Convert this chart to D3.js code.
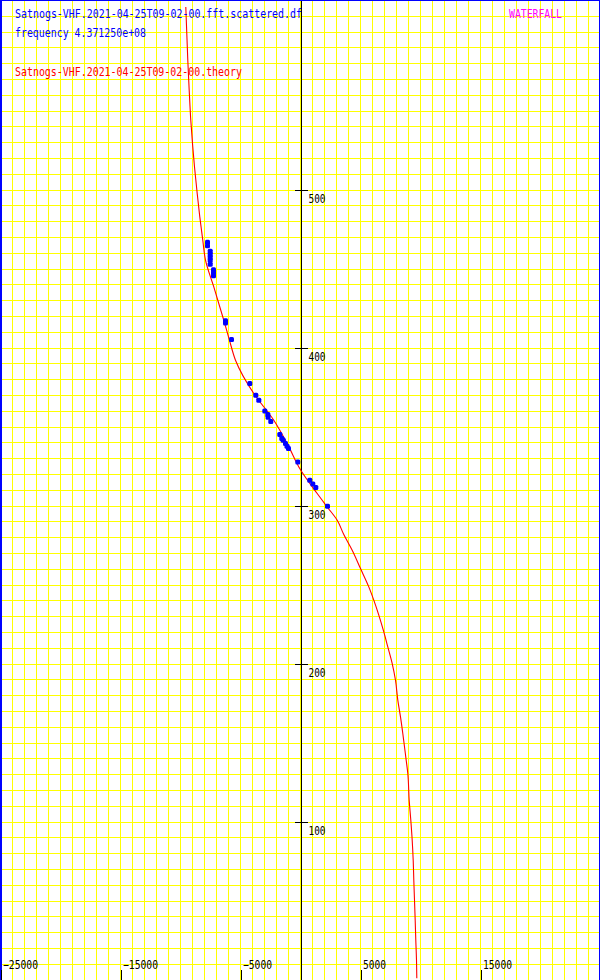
<!DOCTYPE html>
<html>
<head>
<meta charset="utf-8">
<script src="https://cdn.jsdelivr.net/npm/d3@7"></script>
<style>
  html, body { margin: 0; padding: 0; background: #fff; }
  svg { display: block; }
  text { font-family: "DejaVu Sans Mono", "Liberation Mono", monospace; font-size: 12px; }
</style>
</head>
<body>
<svg id="chart" width="600" height="980"></svg>
<script>
// ---- data ----
const titleData = "Satnogs-VHF.2021-04-25T09-02-00.fft.scattered.df";
const titleFreq = "frequency 4.371250e+08";
const titleTheory = "Satnogs-VHF.2021-04-25T09-02-00.theory";
const titleWaterfall = "WATERFALL";

const xTicks = [-25000, -15000, -5000, 5000, 15000];
const yTicks = [100, 200, 300, 400, 500];

// theory curve: frequency offset (Hz) vs time (s)
const theoryFreq = [-9558, -9475, -9392, -9275, -9142, -9000, -8833, -8608, -8392, -8142,
  -7917, -7225, -6392, -5917, -5417, -3892, -2225, -1108, 25, 1392, 2225, 3058, 3608, 4308, 5000,
  5692, 6108, 6525, 6942, 7275, 7642, 7917, 8108, 8333, 8525, 8608, 8808, 8942, 9058, 9192,
  9308, 9392, 9442, 9500, 9558, 9608, 9667, 9692];
const theoryTime = [615.6, 598.7, 581.8, 562.8, 543.9, 529.1, 514.3, 497.5, 482.7, 467.9,
  455.3, 438.4, 417.3, 404.6, 392.0, 370.9, 354.0, 339.2, 322.3, 307.6, 299.1, 290.7, 281.6, 271.7, 260.1,
  248.5, 240.1, 230.6, 220.0, 210.5, 200.0, 189.4, 176.8, 166.2, 155.7, 150.8, 138.8, 130.4, 113.5, 100.8,
  88.2, 75.5, 62.8, 50.2, 37.5, 24.9, 12.2, 0.8];

// measured points
const pointFreq = [-7750, -7750, -7525, -7525, -7525, -7525, -7525, -7250, -7250, -7250,
  -6250, -6250, -5750, -4225, -3725, -3475, -2975, -2725, -2700, -2475, -1725, -1558, -1442,
  -1250, -1125, -1000, -225, 775, 1025, 1275, 2250];
const pointTime = [466.6, 464.4, 461.0, 459.1, 457.2, 455.3, 452.8, 449.2, 447.3, 445.4,
  417.0, 415.5, 405.1, 377.2, 369.8, 366.7, 359.9, 357.6, 355.9, 353.2, 344.9, 342.4, 341.3,
  339.2, 337.5, 336.1, 327.6, 316.0, 313.7, 311.4, 299.6];

// ---- layout ----
const W = 600, H = 980;
const svg = d3.select("#chart");
const x = d3.scaleLinear().domain([-25000, 25000]).range([0.5, 600.5]);
const y = d3.scaleLinear().domain([0, 620]).range([979.5, 0]);

svg.append("rect").attr("width", W).attr("height", H).attr("fill", "#fff");

// grid
const grid = svg.append("g").attr("shape-rendering", "crispEdges")
  .attr("stroke", "#ffff00").attr("stroke-width", 1);
grid.selectAll("line.v").data(d3.range(-24000, 25001, 1000)).join("line")
  .attr("x1", d => x(d)).attr("x2", d => x(d)).attr("y1", 0).attr("y2", H);
grid.selectAll("line.h").data(d3.range(10, 621, 10)).join("line")
  .attr("x1", 0).attr("x2", W).attr("y1", d => Math.round(y(d)) + 0.5).attr("y2", d => Math.round(y(d)) + 0.5);

// border (blue)
const border = svg.append("g").attr("fill", "#0000ff").attr("shape-rendering", "crispEdges");
border.append("rect").attr("x", 0).attr("y", 0).attr("width", 2).attr("height", H);
border.append("rect").attr("x", 0).attr("y", 0).attr("width", W).attr("height", 1);
border.append("rect").attr("x", 599).attr("y", 0).attr("width", 1).attr("height", H);

// x axis (bottom)
const xAxis = svg.append("g").attr("transform", `translate(0,${y(0)})`)
  .attr("shape-rendering", "crispEdges")
  .call(d3.axisBottom(x).tickValues(xTicks).tickSizeInner(-10).tickSizeOuter(0)
    .tickFormat(d3.format("d")));
xAxis.select(".domain").attr("stroke", "#000");
xAxis.selectAll(".tick line").attr("stroke", "#000");
xAxis.selectAll(".tick text")
  .attr("fill", "#000").attr("text-anchor", "start")
  .attr("x", 2).attr("y", -11).attr("dy", 0)
  .attr("font-size", null).attr("font-family", null)
  .each(function() {
    const t = d3.select(this).text();
    d3.select(this).attr("textLength", t.length * 6 - 1).attr("lengthAdjust", "spacingAndGlyphs");
  });

// y axis (at x = 0)
const yAxis = svg.append("g").attr("transform", `translate(${x(0)},0)`)
  .attr("shape-rendering", "crispEdges")
  .call(d3.axisRight(y).tickValues(yTicks).tickSizeInner(7).tickSizeOuter(0)
    .tickFormat(d3.format("d")));
yAxis.select(".domain").attr("stroke", "#000");
yAxis.selectAll(".tick line").attr("stroke", "#000").attr("x1", -6);
yAxis.selectAll(".tick text")
  .attr("fill", "#000").attr("text-anchor", "start")
  .attr("x", 8).attr("y", 13).attr("dy", 0)
  .attr("font-size", null).attr("font-family", null)
  .each(function() {
    const t = d3.select(this).text();
    d3.select(this).attr("textLength", t.length * 6 - 1).attr("lengthAdjust", "spacingAndGlyphs");
  });

// theory curve
const theory = theoryFreq.map((f, i) => [f, theoryTime[i]]);
svg.append("path").datum(theory)
  .attr("fill", "none").attr("stroke", "#ff0000").attr("stroke-width", 1.1)
  .attr("d", d3.line().curve(d3.curveMonotoneY).x(d => x(d[0])).y(d => y(d[1])));

// points
const pts = pointFreq.map((f, i) => [f, pointTime[i]]);
svg.append("g").selectAll("rect").data(pts).join("rect")
  .attr("x", d => x(d[0]) - 2.5).attr("y", d => y(d[1]) - 2.5)
  .attr("width", 5).attr("height", 5).attr("rx", 1.5)
  .attr("fill", "#0000ff");

// labels
function label(txt, px, py, color) {
  svg.append("text").attr("x", px).attr("y", py).attr("fill", color)
    .attr("textLength", txt.length * 6 - 1).attr("lengthAdjust", "spacingAndGlyphs")
    .text(txt);
}
label(titleData, 15, 18, "#0000ff");
label(titleFreq, 15, 37, "#0000ff");
label(titleTheory, 15, 76, "#ff0000");
label(titleWaterfall, 509, 18, "#ff00ff");
</script>
</body>
</html>
